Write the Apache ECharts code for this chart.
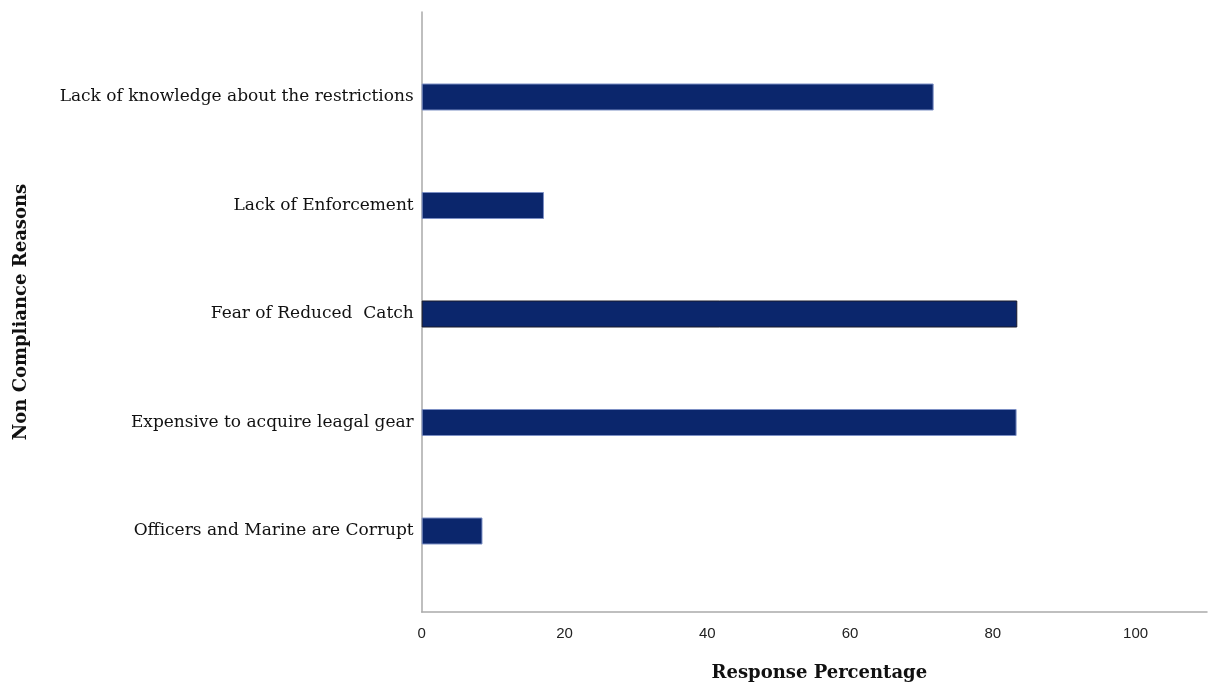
<!DOCTYPE html>
<html>
<head>
<meta charset="utf-8">
<script src="https://cdn.jsdelivr.net/npm/echarts@6/dist/echarts.min.js"></script>
<style>
  html, body { margin: 0; padding: 0; background: #fff; }
  #main { width: 1210px; height: 687px; }
</style>
</head>
<body>
<div id="main"></div>
<script>
// categories listed bottom to top (ECharts category y axis starts at the bottom)
const reasons = [
  'Officers and Marine are Corrupt',
  'Expensive to acquire leagal gear',
  'Fear of Reduced  Catch',
  'Lack of Enforcement',
  'Lack of knowledge about the restrictions'
]
const responsePct = [8.5, 83.2, 83.3, 17.1, 71.6]
const xTicks = [0, 20, 40, 60, 80, 100]

const serif = '"DejaVu Serif", "Liberation Serif", serif'
const navy = '#0b266c'

const chart = echarts.init(document.getElementById('main'))

chart.setOption({
  animation: false,
  grid: [
    // frame grid: carries the visible axis lines, tick labels and names
    { left: 421.7, right: 1.8, top: 12, bottom: 72 },
    // bar grid: same width, inset vertically so bands line up with the picture
    { left: 421.7, right: 1.8, top: 42.75, bottom: 101.75 }
  ],
  xAxis: [
    {
      gridIndex: 0,
      type: 'value',
      min: 0,
      max: 110,
      interval: 20,
      axisLine: { show: true, lineStyle: { color: '#aaaaaa', width: 1.5 } },
      axisTick: { show: false },
      splitLine: { show: false },
      axisLabel: {
        color: '#222',
        fontSize: 15,
        fontFamily: 'Arial, "Liberation Sans", sans-serif',
        margin: 14,
        formatter: v => (xTicks.indexOf(v) >= 0 ? String(v) : '')
      },
      name: 'Response Percentage',
      nameLocation: 'middle',
      nameGap: 52,
      nameTextStyle: { fontFamily: serif, fontWeight: 'bold', fontSize: 18, color: '#111', padding: [0, 0, 0, 10] }
    },
    {
      gridIndex: 1,
      type: 'value',
      min: 0,
      max: 110,
      show: false
    }
  ],
  yAxis: [
    {
      gridIndex: 0,
      type: 'value',
      min: 0,
      max: 1,
      axisLine: { show: true, lineStyle: { color: '#aaaaaa', width: 1.5 } },
      axisTick: { show: false },
      axisLabel: { show: false },
      splitLine: { show: false },
      name: 'Non Compliance Reasons',
      nameLocation: 'middle',
      nameGap: 391,
      nameTextStyle: { fontFamily: serif, fontWeight: 'bold', fontSize: 18, color: '#111' }
    },
    {
      gridIndex: 1,
      type: 'category',
      data: reasons,
      axisLine: { show: false },
      axisTick: { show: false },
      axisLabel: {
        color: '#111',
        fontFamily: serif,
        fontSize: 17,
        margin: 8,
        padding: [5, 0, 0, 0]
      }
    }
  ],
  series: [
    {
      type: 'bar',
      xAxisIndex: 1,
      yAxisIndex: 1,
      barWidth: 27,
      data: responsePct.map((v, i) => ({
        value: v,
        itemStyle: { borderColor: i === 2 ? '#1a1a2a' : '#7c8fc4' }
      })),
      itemStyle: { color: navy, borderWidth: 1 }
    }
  ]
})
</script>
</body>
</html>
